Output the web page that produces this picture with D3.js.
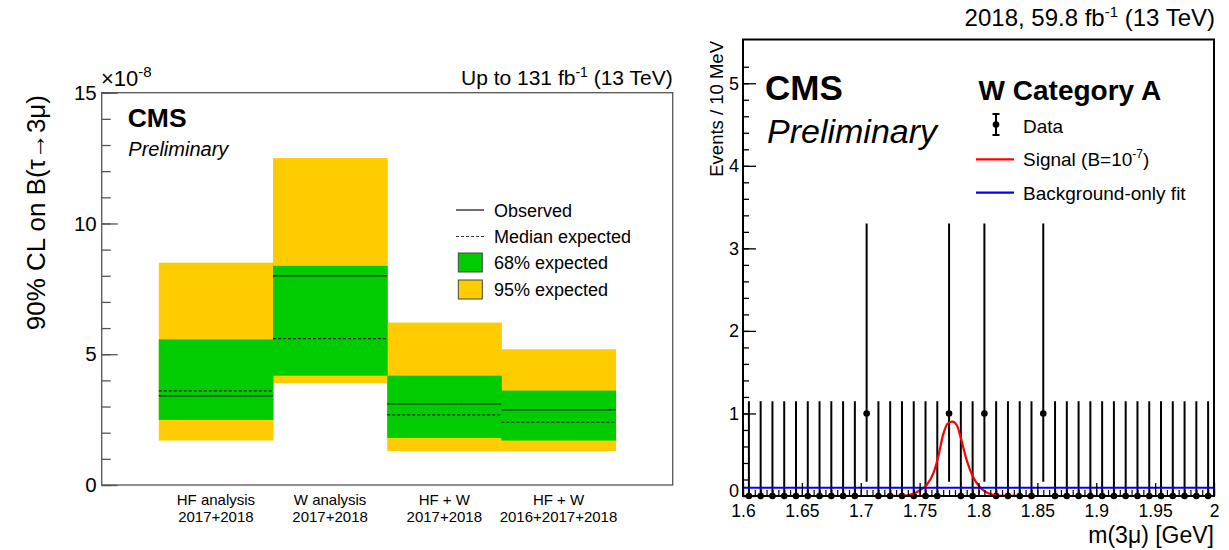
<!DOCTYPE html>
<html>
<head>
<meta charset="utf-8">
<script src="https://cdn.jsdelivr.net/npm/d3@7"></script>
<style>
  body { margin: 0; background: #fff; }
  text { font-family: "Liberation Sans", Arial, Helvetica, sans-serif; fill: #000; }
</style>
</head>
<body>
<script>
// ---- left panel: 90% CL upper limits (units of 1e-8) ----
var analyses = [['HF analysis', '2017+2018'], ['W analysis', '2017+2018'], ['HF + W', '2017+2018'], ['HF + W', '2016+2017+2018']];
var observed  = [3.41, 8.00, 3.10, 2.88];
var medianExp = [3.60, 5.60, 2.68, 2.40];
var lo68 = [2.49, 4.18, 1.80, 1.70];
var hi68 = [5.57, 8.38, 4.18, 3.61];
var lo95 = [1.70, 3.89, 1.29, 1.29];
var hi95 = [8.50, 12.50, 6.21, 5.19];
var limitTicks = [0, 5, 10, 15];
var legendLeft = ['Observed', 'Median expected', '68% expected', '95% expected'];

// ---- right panel: W category A, m(3mu) ----
var counts = [0,0,0,0,0,0,0,0,0,0, 1,0,0,0,0,0,0,1,0,0, 1,0,0,0,0,1,0,0,0,0, 0,0,0,0,0,0,0,0,0,0];
var garwood = {0: [0, 1.148], 1: [0.173, 3.300]};   // Poisson interval per count
var sigMass = [1.717, 1.735, 1.745, 1.7502, 1.7558, 1.7615, 1.7657, 1.7699, 1.774, 1.7779, 1.7815, 1.7841, 1.7898, 1.7954, 1.8011, 1.806, 1.812, 1.820, 1.837];
var sigVal  = [0.000, 0.002, 0.030, 0.070, 0.130, 0.270, 0.470, 0.740, 0.880, 0.900, 0.860, 0.750, 0.440, 0.230, 0.110, 0.050, 0.015, 0.002, 0.000];
var bkgLevel = 0.1;
var massTicks = [1.6, 1.65, 1.7, 1.75, 1.8, 1.85, 1.9, 1.95, 2.0];
var eventTicks = [0, 1, 2, 3, 4, 5];

var YELLOW = '#ffcc00', GREEN = '#00cc00';

var svg = d3.select('body').append('svg').attr('width', 1229).attr('height', 550);

// ================= LEFT PANEL =================
var xL = d3.scaleLinear().domain([0, 5]).range([101.7, 672.7]);
var yL = d3.scaleLinear().domain([0, 15]).range([485, 92.7]);
var left = svg.append('g');

var bins = d3.range(analyses.length);
left.selectAll('.b95').data(bins).enter().append('rect')
  .attr('x', function(i){ return xL(i + 0.5); })
  .attr('width', function(i){ return xL(i + 1.5) - xL(i + 0.5) + 0.5; })
  .attr('y', function(i){ return yL(hi95[i]); })
  .attr('height', function(i){ return yL(lo95[i]) - yL(hi95[i]); })
  .style('fill', YELLOW);
left.selectAll('.b68').data(bins).enter().append('rect')
  .attr('x', function(i){ return xL(i + 0.5); })
  .attr('width', function(i){ return xL(i + 1.5) - xL(i + 0.5) + 0.5; })
  .attr('y', function(i){ return yL(hi68[i]); })
  .attr('height', function(i){ return yL(lo68[i]) - yL(hi68[i]); })
  .style('fill', GREEN);
left.selectAll('.obs').data(bins).enter().append('line')
  .attr('x1', function(i){ return xL(i + 0.5); }).attr('x2', function(i){ return xL(i + 1.5); })
  .attr('y1', function(i){ return yL(observed[i]); }).attr('y2', function(i){ return yL(observed[i]); })
  .style('stroke', '#222').style('stroke-width', 1.4);
left.selectAll('.med').data(bins).enter().append('line')
  .attr('x1', function(i){ return xL(i + 0.5); }).attr('x2', function(i){ return xL(i + 1.5); })
  .attr('y1', function(i){ return yL(medianExp[i]); }).attr('y2', function(i){ return yL(medianExp[i]); })
  .style('stroke', '#222').style('stroke-width', 1.2).style('stroke-dasharray', '3,2');

// frame
left.append('rect').attr('x', xL(0)).attr('y', yL(15)).attr('width', xL(5) - xL(0)).attr('height', yL(0) - yL(15))
  .style('fill', 'none').style('stroke', '#555').style('stroke-width', 1.3);

// y axis, ticks pointing inward
var yAxL = left.append('g').attr('transform', 'translate(' + xL(0) + ',0)')
  .call(d3.axisLeft(yL).tickValues(limitTicks).tickSize(-16).tickPadding(5).tickFormat(d3.format('d')));
yAxL.select('.domain').remove();
yAxL.selectAll('line').style('stroke', '#555').style('stroke-width', 1.3);
yAxL.selectAll('text').style('font-size', '20.5px').style('font-family', '"Liberation Sans", Arial, sans-serif').attr('fill', '#000');
var yMinL = left.append('g').attr('transform', 'translate(' + xL(0) + ',0)')
  .call(d3.axisLeft(yL).tickValues(d3.range(0, 16)).tickSize(-9).tickFormat(''));
yMinL.select('.domain').remove();
yMinL.selectAll('line').style('stroke', '#555').style('stroke-width', 1.3);

// exponent
var expo = left.append('text').attr('x', 101).attr('y', 86).style('font-size', '22px');
expo.append('tspan').text('\u00d710');
expo.append('tspan').attr('dy', -9).style('font-size', '15px').text('-8');

// category labels
bins.forEach(function(i){
  left.append('text').attr('x', xL(i + 1)).attr('y', 505).attr('text-anchor', 'middle').style('font-size', '15px').text(analyses[i][0]);
  left.append('text').attr('x', xL(i + 1)).attr('y', 522).attr('text-anchor', 'middle').style('font-size', '15px').text(analyses[i][1]);
});

// y title
left.append('text').attr('transform', 'translate(45,95) rotate(-90)').attr('text-anchor', 'end')
  .style('font-size', '26px').text('90% CL on B(\u03c4\u21923\u03bc)');

// header
var hL = left.append('text').attr('x', 672.7).attr('y', 85).attr('text-anchor', 'end').style('font-size', '21px');
hL.append('tspan').text('Up to 131 fb');
hL.append('tspan').attr('dy', -8).style('font-size', '14px').text('-1');
hL.append('tspan').attr('dy', 8).text(' (13 TeV)');

left.append('text').attr('x', 127.7).attr('y', 126.7).style('font-size', '26.5px').style('font-weight', 'bold').text('CMS');
left.append('text').attr('x', 128.3).attr('y', 156).style('font-size', '20px').style('font-style', 'italic').text('Preliminary');

// legend
var legY = [210, 236.5, 262.5, 289.5];
left.append('line').attr('x1', 456).attr('x2', 484).attr('y1', legY[0]).attr('y2', legY[0]).style('stroke', '#333').style('stroke-width', 1.4);
left.append('line').attr('x1', 456).attr('x2', 484).attr('y1', legY[1]).attr('y2', legY[1]).style('stroke', '#333').style('stroke-width', 1.2).style('stroke-dasharray', '3,2');
left.append('rect').attr('x', 458.3).attr('y', legY[2] - 9.5).attr('width', 24).attr('height', 19).style('fill', GREEN).style('stroke', '#444').style('stroke-width', 1);
left.append('rect').attr('x', 458.3).attr('y', legY[3] - 9.5).attr('width', 24).attr('height', 19).style('fill', YELLOW).style('stroke', '#444').style('stroke-width', 1);
legendLeft.forEach(function(t, k){
  left.append('text').attr('x', 494).attr('y', legY[k] + 6.5).style('font-size', '18px').text(t);
});

// ================= RIGHT PANEL =================
var xR = d3.scaleLinear().domain([1.6, 2.0]).range([743, 1214]);
var yR = d3.scaleLinear().domain([0, 5.53]).range([496, 39.5]);
var right = svg.append('g');
var centers = d3.range(counts.length).map(function(i){ return 1.605 + i * 0.01; });

// data error bars and points
right.selectAll('.err').data(counts).enter().append('line')
  .attr('x1', function(d, i){ return xR(centers[i]); }).attr('x2', function(d, i){ return xR(centers[i]); })
  .attr('y1', function(d){ return yR(garwood[d][0]); }).attr('y2', function(d){ return yR(garwood[d][1]); })
  .style('stroke', '#000').style('stroke-width', 2);
right.selectAll('.pt').data(counts).enter().append('circle')
  .attr('cx', function(d, i){ return xR(centers[i]); }).attr('cy', function(d){ return yR(d); }).attr('r', 3.3)
  .style('fill', '#000');

// signal
var sigLine = d3.line().x(function(d, i){ return xR(sigMass[i]); }).y(function(d){ return yR(d); }).curve(d3.curveMonotoneX);
right.append('path').attr('d', sigLine(sigVal)).style('fill', 'none').style('stroke', '#ff0000').style('stroke-width', 2.2);

// background-only fit
right.append('line').attr('x1', xR(1.6)).attr('x2', xR(2.0)).attr('y1', yR(bkgLevel)).attr('y2', yR(bkgLevel))
  .style('stroke', '#0000ff').style('stroke-width', 2.2);

// frame
right.append('rect').attr('x', xR(1.6)).attr('y', yR(5.53)).attr('width', xR(2.0) - xR(1.6)).attr('height', yR(0) - yR(5.53))
  .style('fill', 'none').style('stroke', '#000').style('stroke-width', 2);

// axes (ROOT style inward ticks)
var yAxR = right.append('g').attr('transform', 'translate(' + xR(1.6) + ',0)')
  .call(d3.axisLeft(yR).tickValues(eventTicks).tickSize(-13).tickPadding(4).tickFormat(d3.format('d')));
yAxR.select('.domain').remove();
yAxR.selectAll('line').style('stroke', '#000').style('stroke-width', 1.3);
yAxR.selectAll('text').style('font-size', '18px').style('font-family', '"Liberation Sans", Arial, sans-serif').attr('fill', '#000');
yAxR.selectAll('.tick').filter(function(d){ return d === 0; }).select('text').attr('dy', '0.05em');
var yMinR = right.append('g').attr('transform', 'translate(' + xR(1.6) + ',0)')
  .call(d3.axisLeft(yR).tickValues(d3.range(0, 27).map(function(k){ return k * 0.2; })).tickSize(-6).tickFormat(''));
yMinR.select('.domain').remove();
yMinR.selectAll('line').style('stroke', '#000').style('stroke-width', 1.3);

var xAxR = right.append('g').attr('transform', 'translate(0,' + yR(0) + ')')
  .call(d3.axisBottom(xR).tickValues(massTicks).tickSize(-13).tickPadding(9).tickFormat(d3.format('.3~f')));
xAxR.select('.domain').remove();
xAxR.selectAll('line').style('stroke', '#000').style('stroke-width', 1.3);
xAxR.selectAll('text').style('font-size', '17.5px').style('font-family', '"Liberation Sans", Arial, sans-serif').attr('fill', '#000');
var xMinR = right.append('g').attr('transform', 'translate(0,' + yR(0) + ')')
  .call(d3.axisBottom(xR).tickValues(d3.range(0, 81).map(function(k){ return 1.6 + k * 0.005; })).tickSize(-6).tickFormat(''));
xMinR.select('.domain').remove();
xMinR.selectAll('line').style('stroke', '#000').style('stroke-width', 1.2);

// titles
right.append('text').attr('x', 1214).attr('y', 543).attr('text-anchor', 'end').style('font-size', '23px').text('m(3\u03bc) [GeV]');
right.append('text').attr('transform', 'translate(722.7,41) rotate(-90)').attr('text-anchor', 'end').style('font-size', '18.5px').text('Events / 10 MeV');

var hR = right.append('text').attr('x', 1215).attr('y', 26).attr('text-anchor', 'end').style('font-size', '24px');
hR.append('tspan').text('2018, 59.8 fb');
hR.append('tspan').attr('dy', -9).style('font-size', '15px').text('-1');
hR.append('tspan').attr('dy', 9).text(' (13 TeV)');

right.append('text').attr('x', 765).attr('y', 100).style('font-size', '35px').style('font-weight', 'bold').text('CMS');
right.append('text').attr('x', 767).attr('y', 142.5).style('font-size', '34px').style('font-style', 'italic').text('Preliminary');
right.append('text').attr('x', 978.6).attr('y', 100).style('font-size', '28px').style('font-weight', 'bold').text('W Category A');

// legend
right.append('line').attr('x1', 996).attr('x2', 996).attr('y1', 114).attr('y2', 135).style('stroke', '#000').style('stroke-width', 2);
right.append('line').attr('x1', 992.5).attr('x2', 999.5).attr('y1', 114).attr('y2', 114).style('stroke', '#000').style('stroke-width', 2);
right.append('line').attr('x1', 992.5).attr('x2', 999.5).attr('y1', 135).attr('y2', 135).style('stroke', '#000').style('stroke-width', 2);
right.append('circle').attr('cx', 996).attr('cy', 124.5).attr('r', 3.3).style('fill', '#000');
right.append('text').attr('x', 1023).attr('y', 133).style('font-size', '19px').text('Data');

right.append('line').attr('x1', 976).attr('x2', 1014).attr('y1', 159.3).attr('y2', 159.3).style('stroke', '#ff0000').style('stroke-width', 2.2);
var sgT = right.append('text').attr('x', 1023).attr('y', 166).style('font-size', '19px');
sgT.append('tspan').text('Signal (B=10');
sgT.append('tspan').attr('dy', -8).style('font-size', '12px').text('-7');
sgT.append('tspan').attr('dy', 8).text(')');

right.append('line').attr('x1', 976).attr('x2', 1014).attr('y1', 192.7).attr('y2', 192.7).style('stroke', '#0000ff').style('stroke-width', 2.2);
right.append('text').attr('x', 1023).attr('y', 199.5).style('font-size', '19px').text('Background-only fit');
</script>
</body>
</html>
